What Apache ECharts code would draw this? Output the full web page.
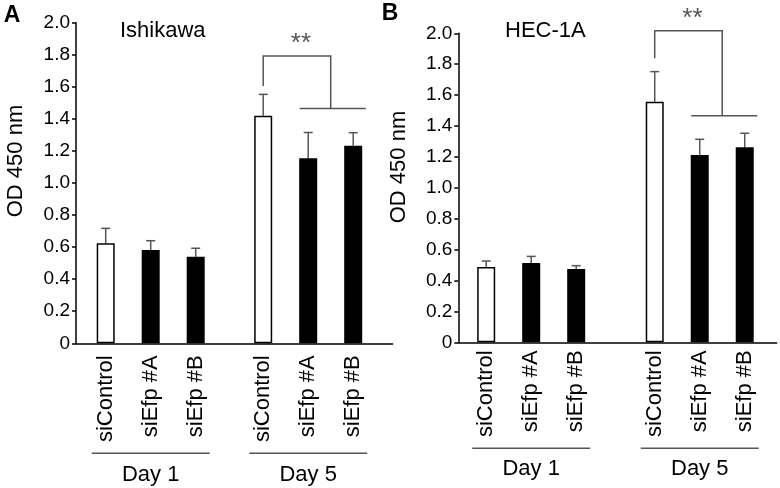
<!DOCTYPE html>
<html>
<head>
<meta charset="utf-8">
<script src="https://cdn.jsdelivr.net/npm/echarts@6/dist/echarts.min.js"></script>
<style>
html,body{margin:0;padding:0;background:#fff;}
#chart{width:780px;height:488px;}
</style>
</head>
<body>
<div id="chart"></div>
<script>
// ---- data ----
const catLabels = ['siControl', 'siEfp #A', 'siEfp #B'];
const dayLabels = ['Day 1', 'Day 5'];
const yTickLabels = ['0', '0.2', '0.4', '0.6', '0.8', '1.0', '1.2', '1.4', '1.6', '1.8', '2.0'];
const panelTitles = ['Ishikawa', 'HEC-1A'];
const panelLetters = ['A', 'B'];
const yAxisTitle = 'OD 450 nm';
const sigLabel = '**';

const ishikawaMean = [0.624, 0.582, 0.54, 1.42, 1.155, 1.232];
const ishikawaErr  = [0.093, 0.058, 0.053, 0.133, 0.16, 0.082];
const hecMean = [0.488, 0.513, 0.474, 1.557, 1.213, 1.262];
const hecErr  = [0.038, 0.043, 0.022, 0.195, 0.101, 0.091];

// bracket levels: [left leg start, top, group line]
const ishikawaBracket = [1.605, 1.793, 1.464];
const hecBracket = [1.838, 2.017, 1.467];

// ---- layout ----
const FONT = '"Liberation Sans", Arial, Helvetica, sans-serif';
const panels = [
  { mean: ishikawaMean, err: ishikawaErr, bracket: ishikawaBracket,
    grid: { left: 76, top: 22.7, width: 316.7, height: 320.6 },
    xmax: 316.7 / 45, start: 0.66, gap: 1.5, catOff: 12, lineOff: 110, dayOff: 132,
    title: { x: 120, y: 33 }, yTitle: { x: 16, y: 161 }, letter: { x: 12, y: 15.5 } },
  { mean: hecMean, err: hecErr, bracket: hecBracket,
    grid: { left: 458.3, top: 33.3, width: 318.4, height: 309 },
    xmax: 318.4 / 45, start: 0.62, gap: 1.745, catOff: 8, lineOff: 106, dayOff: 127,
    title: { x: 505, y: 33 }, yTitle: { x: 398.5, y: 167 }, letter: { x: 390, y: 14 } }
];
function barX(p, i) {
  const g = Math.floor(i / 3), k = i % 3;
  return p.start + k + g * (2 + p.gap);
}

const grids = [], xAxes = [], yAxes = [], series = [], graphics = [];
panels.forEach((p, pi) => {
  grids.push(Object.assign({ containLabel: false }, p.grid));
  xAxes.push({
    type: 'value', gridIndex: pi, min: 0, max: p.xmax,
    axisLine: { show: true, onZero: true, lineStyle: { color: '#000', width: 1.5 } },
    axisTick: { show: false }, axisLabel: { show: false }, splitLine: { show: false }
  });
  yAxes.push({
    type: 'value', gridIndex: pi, min: 0, max: 2, interval: 0.2,
    axisLine: { show: true, lineStyle: { color: '#000', width: 1.5 } },
    axisTick: { show: true, length: 4, inside: false, lineStyle: { color: '#000', width: 1.5 } },
    axisLabel: { fontSize: 19, color: '#000', fontFamily: FONT, margin: 6,
      formatter: v => yTickLabels[Math.round(v / 0.2)] },
    splitLine: { show: false }
  });
  // bars
  series.push({
    type: 'bar', xAxisIndex: pi, yAxisIndex: pi, barWidth: 18,
    data: p.mean.map((m, i) => ({
      value: [barX(p, i), m],
      itemStyle: { color: i % 3 === 0 ? '#fff' : '#000', borderColor: '#000', borderWidth: 1.5 }
    })),
    silent: true
  });
  // error bars
  series.push({
    type: 'custom', xAxisIndex: pi, yAxisIndex: pi, silent: true,
    data: p.mean.map((m, i) => [barX(p, i), m, p.err[i]]),
    renderItem: (params, api) => {
      const x = api.value(0), m = api.value(1), e = api.value(2);
      const a = api.coord([x, m]), b = api.coord([x, m + e]);
      const st = { stroke: '#555', lineWidth: 1.5 };
      return { type: 'group', children: [
        { type: 'line', shape: { x1: a[0], y1: a[1], x2: b[0], y2: b[1] }, style: st },
        { type: 'line', shape: { x1: b[0] - 4.5, y1: b[1], x2: b[0] + 4.5, y2: b[1] }, style: st }
      ]};
    }
  });
  // category labels (rotated)
  series.push({
    type: 'custom', xAxisIndex: pi, yAxisIndex: pi, silent: true,
    data: p.mean.map((m, i) => [barX(p, i), 0]),
    renderItem: (params, api) => {
      const c = api.coord([api.value(0), 0]);
      return { type: 'text', x: c[0], y: c[1] + p.catOff, rotation: Math.PI / 2,
        style: { text: catLabels[params.dataIndex % 3], fill: '#000', font: '22px ' + FONT,
          align: 'right', verticalAlign: 'middle' } };
    }
  });
  // day labels with underline
  series.push({
    type: 'custom', xAxisIndex: pi, yAxisIndex: pi, silent: true,
    data: dayLabels.map((d, g) => [barX(p, g * 3 + 1), 0]),
    renderItem: (params, api) => {
      const x = api.value(0);
      const c = api.coord([x, 0]);
      const l = api.coord([x - 1.31, 0]), r = api.coord([x + 1.31, 0]);
      return { type: 'group', children: [
        { type: 'line', shape: { x1: l[0], y1: c[1] + p.lineOff, x2: r[0], y2: c[1] + p.lineOff },
          style: { stroke: '#555', lineWidth: 1.5 } },
        { type: 'text', x: c[0], y: c[1] + p.dayOff,
          style: { text: dayLabels[params.dataIndex], fill: '#000', font: '22px ' + FONT,
            align: 'center', verticalAlign: 'middle' } }
      ]};
    }
  });
  // significance bracket
  series.push({
    type: 'custom', xAxisIndex: pi, yAxisIndex: pi, silent: true,
    data: [[barX(p, 3), (barX(p, 4) + barX(p, 5)) / 2, barX(p, 4) - 0.19, barX(p, 5) + 0.28,
            p.bracket[0], p.bracket[1], p.bracket[2]]],
    renderItem: (params, api) => {
      const xl = api.value(0), xm = api.value(1), xa = api.value(2), xb = api.value(3);
      const y0 = api.value(4), yt = api.value(5), yg = api.value(6);
      const p1 = api.coord([xl, y0]), p2 = api.coord([xl, yt]), p3 = api.coord([xm, yt]),
            p4 = api.coord([xm, yg]), p5 = api.coord([xa, yg]), p6 = api.coord([xb, yg]);
      const st = { stroke: '#555', lineWidth: 1.5, fill: null };
      return { type: 'group', children: [
        { type: 'polyline', shape: { points: [p1, p2, p3, p4] }, style: st },
        { type: 'line', shape: { x1: p5[0], y1: p5[1], x2: p6[0], y2: p6[1] }, style: st },
        { type: 'text', x: (p2[0] + p3[0]) / 2 + 4, y: p2[1] - 12,
          style: { text: sigLabel, fill: '#555', font: '26px ' + FONT,
            align: 'center', verticalAlign: 'middle' } }
      ]};
    }
  });
  graphics.push({ type: 'text', left: p.title.x, top: p.title.y - 13,
    style: { text: panelTitles[pi], fill: '#000', font: '22px ' + FONT } });
  graphics.push({ type: 'text', x: p.yTitle.x, y: p.yTitle.y, rotation: Math.PI / 2,
    style: { text: yAxisTitle, fill: '#000', font: '22px ' + FONT, align: 'center', verticalAlign: 'middle' } });
  graphics.push({ type: 'text', x: p.letter.x, y: p.letter.y,
    style: { text: panelLetters[pi], fill: '#000', font: 'bold 23px ' + FONT, align: 'center', verticalAlign: 'middle' } });
});

const chart = echarts.init(document.getElementById('chart'), null, { renderer: 'canvas' });
chart.setOption({
  animation: false,
  backgroundColor: '#fff',
  grid: grids, xAxis: xAxes, yAxis: yAxes, series: series, graphic: graphics
});
</script>
</body>
</html>
